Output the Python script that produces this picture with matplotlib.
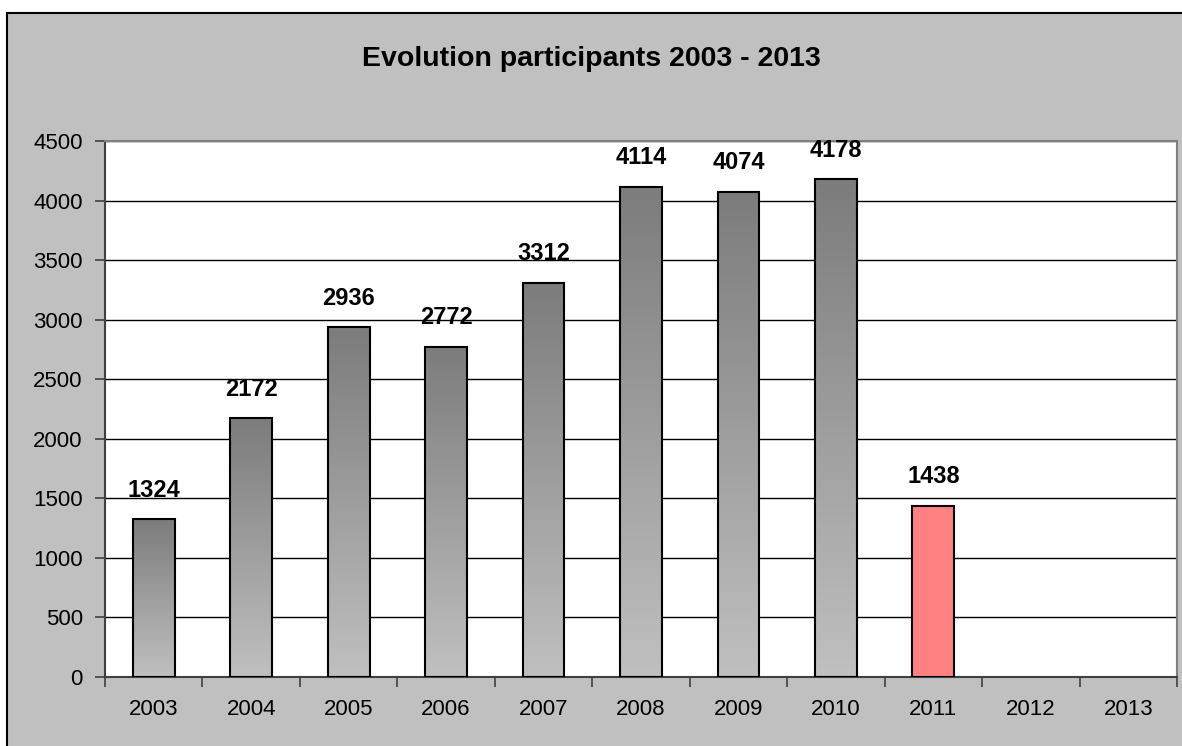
import numpy as np
from matplotlib import pyplot as plt
from matplotlib.patches import Rectangle
from matplotlib.colors import LinearSegmentedColormap

years = ['2003', '2004', '2005', '2006', '2007', '2008', '2009', '2010', '2011', '2012', '2013']
participants = [1324, 2172, 2936, 2772, 3312, 4114, 4074, 4178, 1438, None, None]
highlight_year = '2011'

plt.rcParams['font.family'] = ['Liberation Sans', 'DejaVu Sans']

fig = plt.figure(figsize=(11.82, 7.46), dpi=100, facecolor='white')

# grey chart area with black frame, slightly offset like the pasted excel chart
fig.patches.append(Rectangle((7 / 1182, -0.01), 1.0, (733 / 746) + 0.01,
                             transform=fig.transFigure, facecolor='#C0C0C0',
                             edgecolor='black', linewidth=1.5, zorder=-5))

ax = fig.add_axes([105 / 1182, 69 / 746, 1072 / 1182, 536 / 746])
ax.set_facecolor('white')

x = np.arange(len(years))
heights = [v if v is not None else 0 for v in participants]
bars = ax.bar(x, heights, width=0.43, color='none', edgecolor='black',
              linewidth=1.5, zorder=3)

grey_cmap = LinearSegmentedColormap.from_list('bar_grey', ['#C0C0C0', '#7C7C7C'])
grad = np.linspace(0, 1, 256).reshape(-1, 1)

for yr, val, bar in zip(years, participants, bars):
    if val is None:
        bar.set_visible(False)
        continue
    x0, w = bar.get_x(), bar.get_width()
    if yr == highlight_year:
        bar.set_facecolor('#FF8080')
    else:
        img = ax.imshow(grad, cmap=grey_cmap, aspect='auto', origin='lower',
                        extent=[x0, x0 + w, 0, val], zorder=2)
        img.set_clip_path(bar)
    ax.annotate(str(val), (x0 + w / 2, val), xytext=(0, 21), textcoords='offset points',
                ha='center', va='center', fontsize=17, fontweight='bold')

ax.set_xlim(-0.5, len(years) - 0.5)
ax.set_ylim(0, 4500)
ax.set_yticks(range(0, 4501, 500))
ax.yaxis.grid(True, color='black', linewidth=1.0, zorder=1)
ax.set_axisbelow(True)

ax.set_xticks(x)
ax.set_xticklabels(years)
ax.set_xticks(np.arange(-0.5, len(years), 1), minor=True)
ax.tick_params(axis='x', which='major', length=0, pad=16, labelsize=16)
ax.tick_params(axis='x', which='minor', length=7, width=1.2, color='#404040', direction='out')
ax.tick_params(axis='y', length=7, width=1.2, color='#404040', pad=9, labelsize=16)

for side in ['left', 'bottom']:
    ax.spines[side].set_color('#404040')
    ax.spines[side].set_linewidth(1.5)
for side in ['top', 'right']:
    ax.spines[side].set_color('#808080')
    ax.spines[side].set_linewidth(1.5)

fig.text(0.5, 1 - 59 / 746, 'Evolution participants 2003 - 2013', ha='center', va='center',
         fontsize=20.5, fontweight='bold')

fig.savefig('out.png', dpi=100, facecolor=fig.get_facecolor())
